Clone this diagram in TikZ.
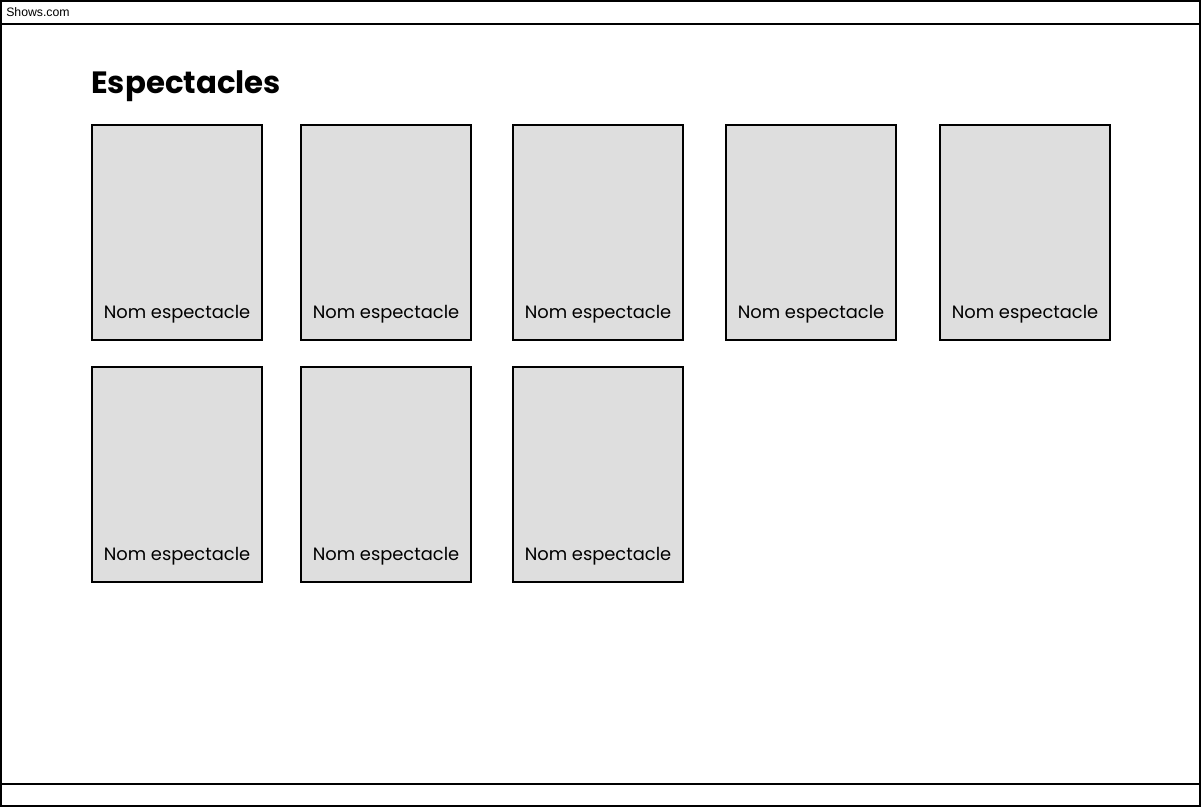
\documentclass[tikz,border=0pt]{standalone}
\usepackage{fontspec}
\setmainfont{Poppins}
\newfontfamily\arialfont{Liberation Sans}
\usetikzlibrary{positioning}

\begin{document}
\begin{tikzpicture}[
            x = 0.75pt, y = -0.75pt, % pixel grid, y going down
            node distance = 31.5pt, % gap between cards
            frame/.style = {draw, line width=1.5pt},
            card/.style = {draw, line width=1.5pt, fill=black!13,
                minimum width=127.5pt, minimum height=161.25pt,
                inner sep=0pt, outer sep=0pt},
            cardname/.style = {font=\fontsize{13.4pt}{15pt}\selectfont, inner sep=0pt}
        ]

	\useasboundingbox (0,0) rectangle (1202,808);

	% browser window
	\draw[frame] (1,1) rectangle (1200,806);
	\coordinate (tl) at (1,24);
	\coordinate (tr) at (1200,24);
	\coordinate (bl) at (1,784);
	\coordinate (br) at (1200,784);
	\draw[frame] (tl) -- (tr);
	\draw[frame] (bl) -- (br);
	\node[anchor=west, inner sep=0pt, font=\arialfont\fontsize{9.2pt}{11pt}\selectfont] (url) at (6,12) {Shows.com};

	\node[anchor=base west, inner sep=0pt, font=\fontsize{23.1pt}{27pt}\selectfont\bfseries] (title) at (91,93) {Espectacles};

	% first row
	\node[card, anchor=north west] (c1) at (92,125) {};
	\node[card] (c2) [right=29.25pt of c1] {};
	\node[card] (c3) [right=31.5pt of c2] {};
	\node[card] (c4) [right=32.25pt of c3] {};
	\node[card] (c5) [right=33pt of c4] {};

	% second row
	\node[card] (c6) [below=20.25pt of c1] {};
	\node[card] (c7) [below=20.25pt of c2] {};
	\node[card] (c8) [below=20.25pt of c3] {};

	\foreach \c in {1,...,8}
		\node[cardname, anchor=base] (n\c) at ([yshift=16pt]c\c.south) {Nom espectacle};

\end{tikzpicture}
\end{document}
